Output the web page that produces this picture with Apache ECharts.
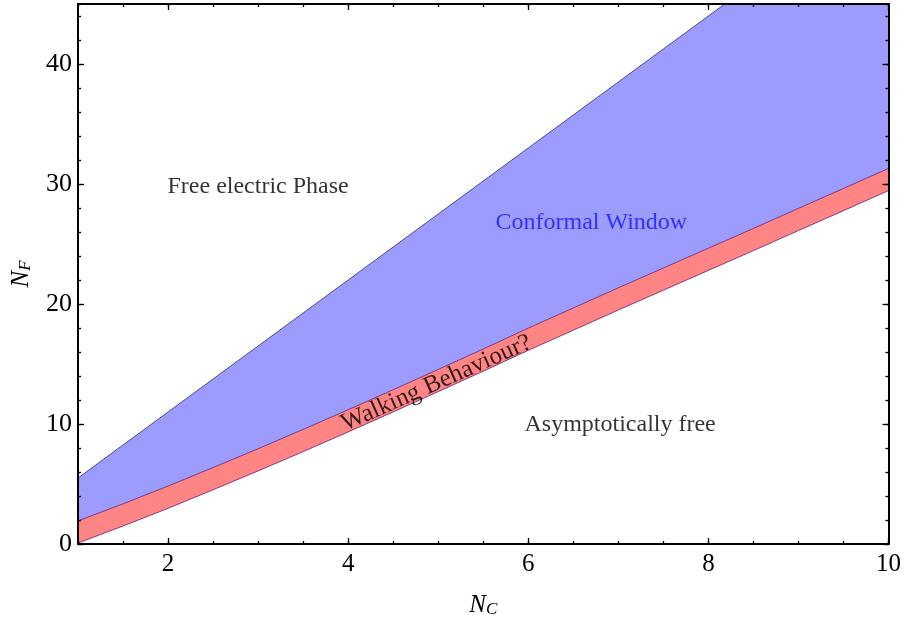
<!DOCTYPE html>
<html>
<head>
<meta charset="utf-8">
<script src="https://cdn.jsdelivr.net/npm/echarts@6/dist/echarts.min.js"></script>
<style>
html,body{margin:0;padding:0;background:#fff;}
#chart{width:904px;height:623px;}
</style>
</head>
<body>
<div id="chart"></div>
<script>
// ---- data ----
const nc = [1, 1.5, 2, 2.5, 3, 3.5, 4, 4.5, 5, 5.5, 6, 6.5, 7, 7.5, 8, 8.5, 9, 9.5, 10];
// upper boundary of conformal window (loss of asymptotic freedom)
const nfUpper = [5.5, 8.25, 11, 13.75, 16.5, 19.25, 22, 24.75, 27.5, 30.25, 33, 35.75, 38.5, 41.25, 44, 46.75, 49.5, 52.25, 55];
// lower boundary of conformal window / top of walking band
const nfMiddle = [1.93, 3.35, 4.83, 6.37, 7.94, 9.55, 11.19, 12.86, 14.55, 16.25, 17.99, 19.67, 21.35, 23.0, 24.65, 26.3, 27.97, 29.63, 31.3];
// bottom of walking band
const nfLower = [0.08, 1.5, 2.97, 4.52, 6.09, 7.7, 9.34, 11.01, 12.7, 14.4, 16.14, 17.82, 19.5, 21.15, 22.8, 24.45, 26.12, 27.78, 29.45];
const xTickLabels = [2, 4, 6, 8, 10];
const yTickLabels = [0, 10, 20, 30, 40];
const regionTexts = ['Free electric Phase', 'Conformal Window', 'Asymptotically free', 'Walking Behaviour?'];

// ---- build ----
const serif = '"Liberation Serif", "Times New Roman", serif';
const upperPts = nc.map((x, i) => [x, nfUpper[i]]);
const middlePts = nc.map((x, i) => [x, nfMiddle[i]]);
const lowerPts = nc.map((x, i) => [x, nfLower[i]]);

const nameRich = {
  n: {fontFamily: serif, fontStyle: 'italic', fontSize: 25, color: '#000', verticalAlign: 'bottom', lineHeight: 30},
  s: {fontFamily: serif, fontStyle: 'italic', fontSize: 17, color: '#000', verticalAlign: 'bottom', lineHeight: 20}
};

function xAx(pos, major, withLabels) {
  const a = {
    type: 'value', min: 1, max: 10, position: pos, z: 10,
    splitLine: {show: false},
    axisLine: {show: major, onZero: false, lineStyle: {color: '#000', width: 2}},
    axisTick: {show: true, inside: true, length: major ? 6 : 3, lineStyle: {color: '#000', width: 1.3}},
    axisLabel: {show: false}
  };
  if (major) {
    a.axisTick.customValues = xTickLabels;
    if (withLabels) {
      a.axisLabel = {show: true, customValues: xTickLabels, fontFamily: serif, fontSize: 25, color: '#000', margin: 8};
      a.name = '{n|N}{s|C}';
      a.nameLocation = 'middle';
      a.nameGap = 44;
      a.nameTextStyle = {rich: nameRich};
    }
  } else {
    a.interval = 0.5;
  }
  return a;
}
function yAx(pos, major, withLabels) {
  const a = {
    type: 'value', min: 0, max: 45, position: pos, z: 10,
    splitLine: {show: false},
    axisLine: {show: major, onZero: false, lineStyle: {color: '#000', width: 2}},
    axisTick: {show: true, inside: true, length: major ? 6 : 3, lineStyle: {color: '#000', width: 1.3}},
    axisLabel: {show: false}
  };
  if (major) {
    a.axisTick.customValues = yTickLabels;
    if (withLabels) {
      a.axisLabel = {show: true, customValues: yTickLabels, fontFamily: serif, fontSize: 26, color: '#000', margin: 6};
      a.name = '{n|N}{s|F}';
      a.nameLocation = 'middle';
      a.nameGap = 44;
      a.nameTextStyle = {rich: nameRich};
    }
  } else {
    a.interval = 2;
  }
  return a;
}

const chart = echarts.init(document.getElementById('chart'), null, {renderer: 'canvas'});
chart.setOption({
  animation: false,
  backgroundColor: '#fff',
  grid: {left: 78, right: 14, top: 4, bottom: 78, containLabel: false},
  xAxis: [xAx('bottom', true, true), xAx('bottom', false), xAx('top', true, false), xAx('top', false)],
  yAxis: [yAx('left', true, true), yAx('left', false), yAx('right', true, false), yAx('right', false)],
  series: [
    {type: 'line', data: upperPts, symbol: 'none', clip: true, z: 2,
     lineStyle: {color: '#4a4a96', width: 1},
     areaStyle: {color: '#9c9cff', opacity: 1, origin: 'start'}},
    {type: 'line', data: middlePts, symbol: 'none', clip: true, z: 3,
     lineStyle: {color: '#7a3a86', width: 1},
     areaStyle: {color: '#ff8484', opacity: 1, origin: 'start'}},
    {type: 'line', data: lowerPts, symbol: 'none', clip: true, z: 4,
     lineStyle: {color: '#8a3a7e', width: 1},
     areaStyle: {color: '#ffffff', opacity: 1, origin: 'start'}},
    {type: 'scatter', symbolSize: 0, z: 20, silent: true,
     data: [
       {value: [3.0, 29.8]},
       {value: [6.7, 26.8], label: {color: '#1414ff'}},
       {value: [7.02, 9.96]},
       {value: [4.98, 13.4], label: {rotate: 24, fontSize: 25}}
     ],
     label: {show: true, position: 'inside', fontFamily: serif, fontSize: 24, color: '#000',
       textBorderWidth: 0, formatter: p => regionTexts[p.dataIndex]}}
  ]
});
</script>
</body>
</html>
